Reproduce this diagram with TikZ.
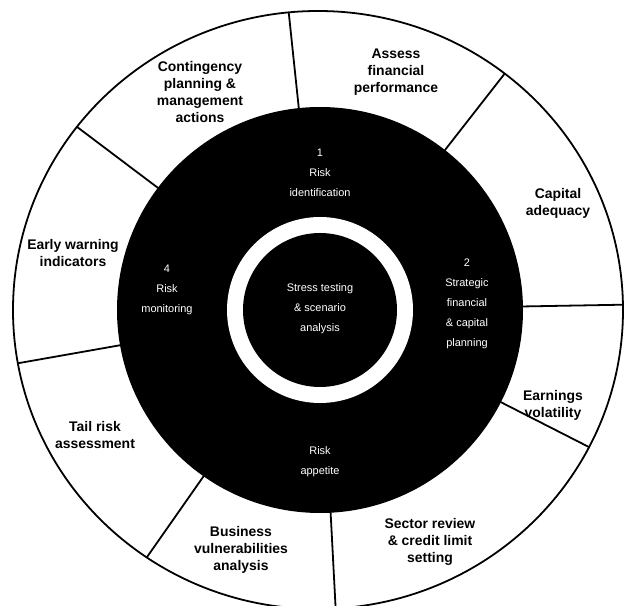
\documentclass[tikz,border=0pt]{standalone}
\usepackage{fontspec}
\setmainfont{Liberation Sans}
\begin{document}
\begin{tikzpicture}[x=1bp,y=1bp,line join=round,line cap=round,
  seglabel/.style={font=\bfseries\fontsize{14}{17}\selectfont,align=center,text=black},
  stagelabel/.style={font=\fontsize{11}{20}\selectfont,align=center,text=white}]
  \def\rdark{203}\def\rring{93}\def\rcore{77}
  \useasboundingbox (-320,-296) rectangle (304,310);
  \begin{scope}
    \clip (-320,-296) rectangle (304,310);
    \fill[black] (0,0) circle(\rdark);
    \fill[white] (0,0) circle(\rring);
    \fill[black] (0,0) circle(\rcore);
    % dividers between the outer segments
    \begin{scope}
      \clip (-2,0) ellipse[x radius=305, y radius=299];
      \foreach \a in {96,52,1,-27,-87,-125,-170,143}
        \draw[line width=1.8] (\a:\rdark) -- (\a:340);
    \end{scope}
    \draw[line width=1.8] (-2,0) ellipse[x radius=305, y radius=299];
  \end{scope}
  % outer segments
  \node[seglabel] (contingency) at (-120,218) {Contingency\\planning \&\\management\\actions};
  \node[seglabel] (assess) at (76,238) {Assess\\financial\\performance};
  \node[seglabel] (capital) at (238,107) {Capital\\adequacy};
  \node[seglabel] (earnings) at (233,-95) {Earnings\\volatility};
  \node[seglabel] (sector) at (110,-232) {Sector review\\\& credit limit\\setting};
  \node[seglabel] (business) at (-79,-240) {Business\\vulnerabilities\\analysis};
  \node[seglabel] (tailrisk) at (-225,-125) {Tail risk\\assessment};
  \node[seglabel] (warning) at (-247,57) {Early warning\\indicators};
  % stages on the dark ring
  \node[stagelabel] (identify) at (0,137) {1\\Risk\\identification};
  \node[stagelabel] (planning) at (147,6) {2\\Strategic\\financial\\\& capital\\planning};
  \node[stagelabel] (appetite) at (0,-152) {Risk\\appetite};
  \node[stagelabel] (monitor) at (-153,20) {4\\Risk\\monitoring};
  \node[stagelabel] (core) at (0,1) {Stress testing\\\& scenario\\analysis};
\end{tikzpicture}
\end{document}
